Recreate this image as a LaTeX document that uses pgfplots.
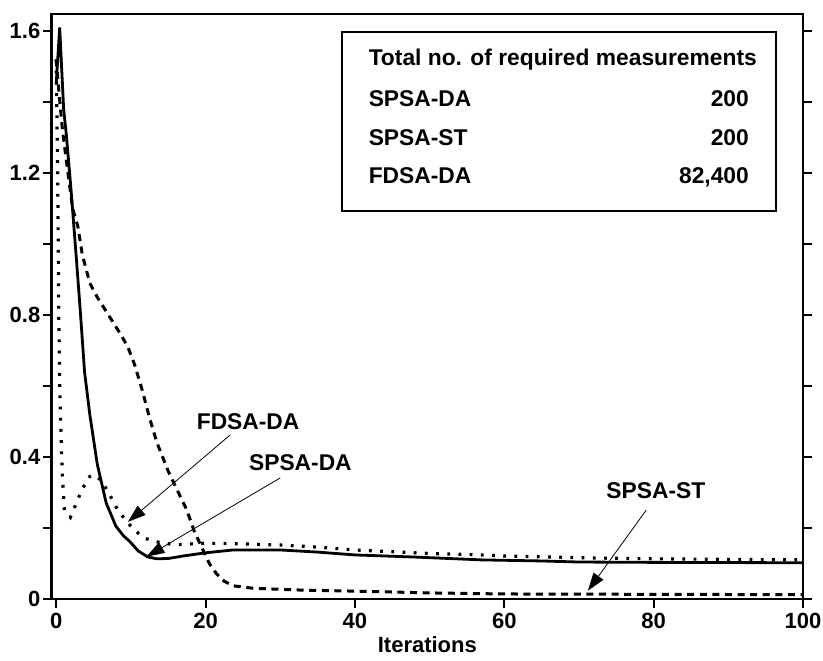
\documentclass[border=0pt]{standalone}
\usepackage{fontspec}
\setmainfont{Liberation Sans}
\usepackage{pgfplots}
\pgfplotsset{compat=1.18}
\usetikzlibrary{arrows.meta}
\begin{document}
\begin{tikzpicture}
\def\lf{\bfseries\fontsize{11}{13}\selectfont}
\def\bf{\bfseries\fontsize{11.4}{13.5}\selectfont}
\begin{axis}[
  scale only axis, width=375.7pt, height=292.5pt,
  xmin=-0.6, xmax=100, ymin=0, ymax=1.648,
  xtick={0,20,40,60,80,100},
  ytick={0,0.4,0.8,1.2,1.6},
  minor ytick={0.2,0.6,1.0,1.4},
  xtick pos=bottom, ytick pos=both,
  tick align=outside,
  major tick length=4.5pt, minor tick length=4.5pt,
  every tick/.style={black, line width=1pt},
  axis line style={line width=1.3pt},
  /pgf/number format/assume math mode=true,
  ticklabel style={font=\lf},
  yticklabel style={inner xsep=1pt},
  xticklabel style={inner ysep=2.5pt},
  xlabel={Iterations},
  xlabel style={font=\lf, yshift=2pt},
  clip=true,
]
\coordinate (ll) at (rel axis cs:0,0);
\coordinate (ur) at (rel axis cs:1,1);
% SPSA-DA (solid)
\addplot[black, line width=1.4pt] coordinates {
(0,1.45) (0.47,1.61) (1.0,1.38) (1.35,1.31) (2,1.15) (2.7,0.96) (3.2,0.82)
(3.8,0.64) (4.5,0.52) (5.5,0.38) (6.7,0.27) (8,0.205) (9,0.178) (9.8,0.163)
(11,0.135) (12.3,0.118) (13.5,0.113) (15,0.114) (17,0.121) (20,0.13)
(23.7,0.138) (30,0.138) (35,0.132) (40,0.124) (48,0.118) (57,0.11)
(65,0.107) (70,0.104) (80,0.103) (100,0.102)};
% dotted
\addplot[black, line width=1.6pt, dash pattern=on 1.4pt off 4.2pt] coordinates {
(0,1.52) (0.2,1.2) (0.35,0.8) (0.5,0.57) (0.8,0.36) (1.1,0.25) (1.9,0.23)
(2.6,0.265) (3.5,0.31) (4.5,0.345) (5,0.35) (6,0.335) (7,0.30) (8,0.26)
(9,0.23) (10,0.205) (11,0.185) (12,0.17) (14,0.158) (16,0.153) (20,0.157)
(25,0.155) (30,0.152) (35,0.146) (40,0.138) (50,0.128) (57,0.124)
(60,0.121) (70,0.116) (80,0.113) (100,0.11)};
% dashed
\addplot[black, line width=1.5pt, dash pattern=on 3.5pt off 2.8pt] coordinates {
(0,1.52) (0.4,1.42) (0.85,1.32) (1.3,1.245) (2.2,1.10) (2.9,1.05) (3.5,0.97)
(4.5,0.89) (5.5,0.85) (7,0.80) (8.5,0.75) (9.6,0.71) (10.5,0.66) (11.5,0.59)
(12.5,0.51) (13.5,0.44) (15,0.36) (16.2,0.307) (17.5,0.25) (18.5,0.19)
(19.5,0.145) (20.5,0.10) (21.5,0.07) (22.5,0.05) (23.7,0.037) (26.4,0.03)
(32.7,0.025) (40,0.022) (50,0.017) (60,0.014) (80,0.013) (100,0.012)};
% annotations
\node[font=\bf, inner sep=0pt] at (axis cs:25.7,0.50) {FDSA-DA};
\node[font=\bf, inner sep=0pt] at (axis cs:32.7,0.383) {SPSA-DA};
\node[font=\bf, inner sep=0pt] at (axis cs:80.3,0.304) {SPSA-ST};
\draw[line width=0.4pt, -{Triangle[length=9pt,width=6pt]}] (axis cs:23.3,0.462) -- (axis cs:9.6,0.217);
\draw[line width=0.4pt, -{Triangle[length=9pt,width=6pt]}] (axis cs:30.0,0.341) -- (axis cs:12.1,0.119);
\draw[line width=0.4pt, -{Triangle[length=9pt,width=6pt]}] (axis cs:79.0,0.25) -- (axis cs:71.2,0.023);
% box
\draw[line width=1pt] (axis cs:38.3,1.093) rectangle (axis cs:96.4,1.597);
\node[font=\bf, inner sep=0pt, anchor=base west] at (axis cs:41.8,1.502) {Total no. of required measurements};
\node[font=\bf, inner sep=0pt, anchor=base west] at (axis cs:41.8,1.388) {SPSA-DA};
\node[font=\bf, inner sep=0pt, anchor=base west] at (axis cs:41.8,1.277) {SPSA-ST};
\node[font=\bf, inner sep=0pt, anchor=base west] at (axis cs:41.8,1.170) {FDSA-DA};
\node[font=\bf, inner sep=0pt, anchor=base east] at (axis cs:92.8,1.388) {200};
\node[font=\bf, inner sep=0pt, anchor=base east] at (axis cs:92.8,1.277) {200};
\node[font=\bf, inner sep=0pt, anchor=base east] at (axis cs:92.8,1.170) {82,400};
\end{axis}
\pgfresetboundingbox
\path[use as bounding box] ([shift={(-25.85pt,-31pt)}]ll) rectangle ([shift={(10pt,7pt)}]ur);
\end{tikzpicture}
\end{document}
